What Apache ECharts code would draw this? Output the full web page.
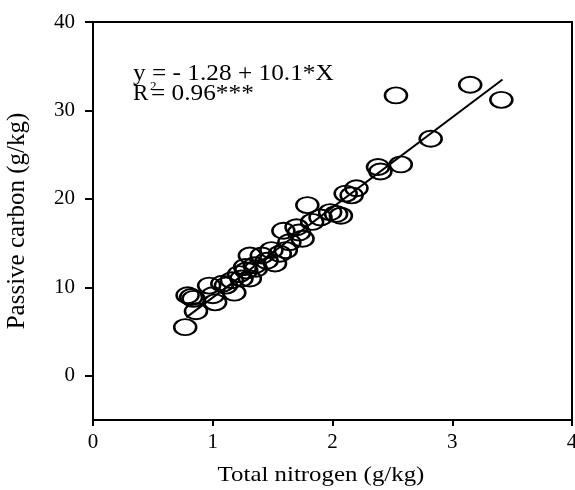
<!DOCTYPE html>
<html>
<head>
<meta charset="utf-8">
<script src="https://cdn.jsdelivr.net/npm/echarts@6/dist/echarts.min.js"></script>
<style>html,body{margin:0;padding:0;background:#fff;overflow:hidden}#c{width:575px;height:490px}</style>
</head>
<body>
<div id="c"></div>
<script>
// Total nitrogen (g/kg)
const nitrogen = [0.77,0.79,0.84,0.86,0.82,0.97,1.00,1.02,1.08,1.11,1.16,1.18,1.22,1.24,1.27,1.28,1.31,1.31,1.35,1.36,1.41,1.45,1.49,1.52,1.56,1.59,1.61,1.64,1.70,1.72,1.75,1.79,1.83,1.90,1.98,2.03,2.07,2.11,2.16,2.20,2.38,2.40,2.53,2.57,2.82,3.15,3.41];
// Passive carbon (g/kg)
const carbon = [5.5,9.1,8.7,7.3,8.9,10.2,9.1,8.3,10.4,10.2,10.8,9.4,11.5,11.0,12.3,11.9,13.6,11.0,12.5,12.1,13.6,13.0,14.2,12.7,13.8,16.4,14.2,15.1,16.8,16.2,15.5,19.3,17.4,17.9,18.5,18.3,18.1,20.6,20.4,21.2,23.6,23.1,31.7,23.9,26.8,32.9,31.2];
// regression line end points
const fitX = [0.78, 3.42];
const fitY = [6.6, 33.5];
const yTicks = [0, 10, 20, 30, 40];

const font = "'Liberation Serif','Times New Roman',serif";
const chart = echarts.init(document.getElementById('c'));
chart.setOption({
  animation: false,
  backgroundColor: '#fff',
  grid: {left: 93, right: 3, top: 22, bottom: 70, show: true, borderColor: '#000', borderWidth: 2, containLabel: false, outerBoundsMode: 'none'},
  xAxis: {
    type: 'value', min: 0, max: 4, interval: 1,
    axisLine: {show: true, onZero: false, lineStyle: {color: '#000', width: 2}},
    axisTick: {show: true, length: 6, lineStyle: {color: '#000', width: 2}},
    axisLabel: {fontFamily: font, fontSize: 21, color: '#000', margin: 12},
    splitLine: {show: false}
  },
  yAxis: {
    type: 'value', min: -5, max: 40,
    name: 'Passive carbon (g/kg)', nameLocation: 'middle', nameGap: 63,
    nameTextStyle: {fontFamily: font, fontSize: 25, color: '#000'},
    axisLine: {show: true, onZero: false, lineStyle: {color: '#000', width: 2}},
    axisTick: {show: true, length: 8, customValues: yTicks, lineStyle: {color: '#000', width: 2}},
    axisLabel: {fontFamily: font, fontSize: 21, color: '#000', margin: 18, customValues: yTicks},
    splitLine: {show: false}
  },
  graphic: [
    {type: 'text', x: 321, y: 475, scaleX: 1.13, style: {text: 'Total nitrogen (g/kg)', font: '22px ' + font, fill: '#000', align: 'center', verticalAlign: 'middle'}},
    {type: 'text', x: 133, y: 74, scaleX: 1.1, style: {text: 'y = - 1.28 + 10.1*X', font: '23px ' + font, fill: '#000', verticalAlign: 'middle'}},
    {type: 'text', x: 133, y: 94, style: {text: 'R', font: '23px ' + font, fill: '#000', verticalAlign: 'middle'}},
    {type: 'text', x: 150, y: 87, style: {text: '2', font: '13px ' + font, fill: '#000', verticalAlign: 'middle'}},
    {type: 'text', x: 151, y: 94, scaleX: 1.1, style: {text: '= 0.96***', font: '23px ' + font, fill: '#000', verticalAlign: 'middle'}}
  ],
  series: [
    {
      type: 'line', data: fitX.map((x, i) => [x, fitY[i]]),
      showSymbol: false, symbol: 'none', lineStyle: {color: '#000', width: 2}, z: 1, silent: true
    },
    {
      type: 'scatter', data: nitrogen.map((x, i) => [x, carbon[i]]),
      symbol: 'circle', symbolSize: [22, 16],
      itemStyle: {color: 'rgba(0,0,0,0)', borderColor: '#000', borderWidth: 2.2, opacity: 1},
      z: 2
    }
  ]
});
</script>
</body>
</html>
